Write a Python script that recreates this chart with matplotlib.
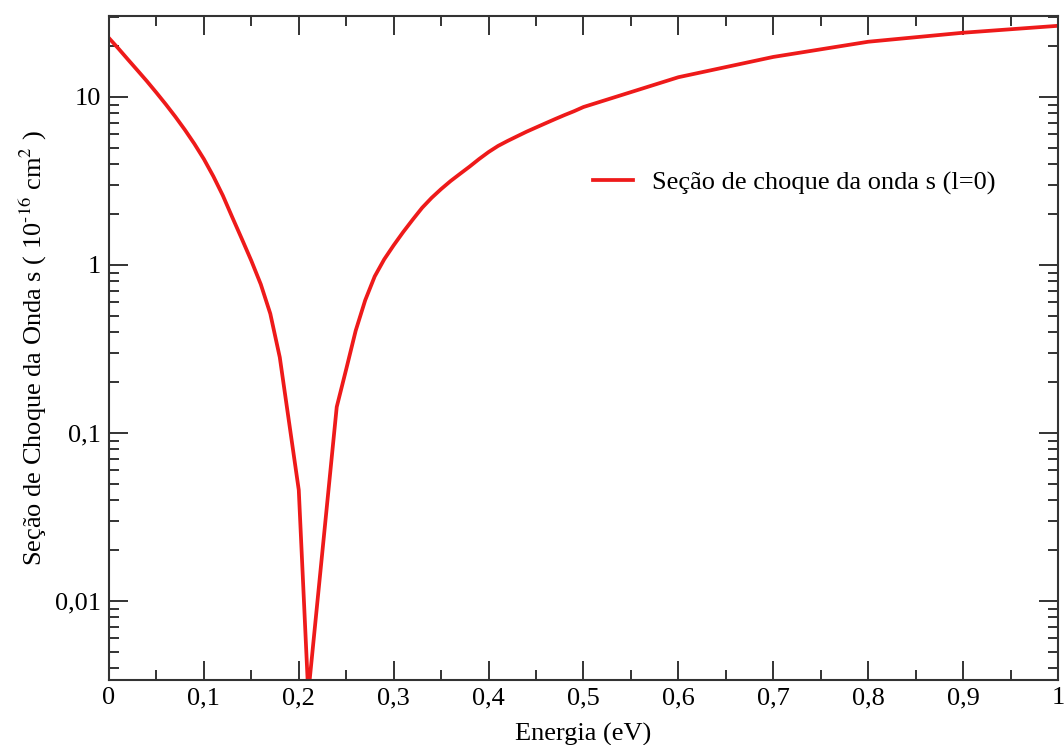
import matplotlib
matplotlib.use('Agg')
import matplotlib.pyplot as plt
from matplotlib.ticker import MultipleLocator, LogLocator, FuncFormatter, NullFormatter

# Energia (eV) e secao de choque (10^-16 cm^2)
energia = [0.00, 0.01, 0.02, 0.03, 0.04, 0.05, 0.06, 0.07, 0.08, 0.09,
           0.10, 0.11, 0.12, 0.13, 0.14, 0.15, 0.16, 0.17, 0.18, 0.20,
           0.21, 0.24, 0.25, 0.26, 0.27, 0.28, 0.29, 0.30, 0.31, 0.32,
           0.33, 0.34, 0.35, 0.36, 0.37, 0.38, 0.39, 0.40, 0.41, 0.42,
           0.43, 0.44, 0.45, 0.46, 0.47, 0.48, 0.49, 0.50, 0.60, 0.70,
           0.80, 0.90, 1.00]
secao = [22.4, 19.4, 16.7, 14.4, 12.4, 10.6, 9.02, 7.62, 6.37, 5.26,
         4.27, 3.37, 2.59, 1.92, 1.43, 1.06, 0.767, 0.513, 0.282, 0.0458,
         0.0028, 0.143, 0.240, 0.407, 0.617, 0.855, 1.08, 1.31, 1.57, 1.86,
         2.19, 2.51, 2.83, 3.16, 3.49, 3.85, 4.27, 4.70, 5.11, 5.47,
         5.83, 6.21, 6.58, 6.97, 7.38, 7.80, 8.22, 8.71, 13.1, 17.3,
         21.3, 24.1, 26.5]

plt.rcParams['font.family'] = ['Liberation Serif', 'DejaVu Serif']
plt.rcParams['mathtext.fontset'] = 'stix'

almost_black = '#333333'
fs = 19

fig = plt.figure(figsize=(10.64, 7.45), dpi=100)
ax = fig.add_axes([0.1024, 0.0872, 0.8920, 0.8913])

ax.plot(energia, secao, color='#ee1a1a', lw=2.7,
        label='Seção de choque da onda s (l=0)')

ax.set_yscale('log')
ax.set_xlim(0, 1)
ax.set_ylim(0.00339, 30.3)

# ticks like xmgrace: inside, on all four sides
ax.xaxis.set_major_locator(MultipleLocator(0.1))
ax.xaxis.set_minor_locator(MultipleLocator(0.05))
ax.yaxis.set_major_locator(LogLocator(base=10))
ax.yaxis.set_minor_locator(LogLocator(base=10, subs=range(2, 10)))
ax.yaxis.set_minor_formatter(NullFormatter())

def virgula(v, pos):
    s = ('%.2f' % v).rstrip('0').rstrip('.')
    return s.replace('.', ',')

ax.xaxis.set_major_formatter(FuncFormatter(virgula))
ax.yaxis.set_major_formatter(FuncFormatter(virgula))

ax.tick_params(which='both', direction='in', top=True, right=True,
               color=almost_black, labelsize=fs, width=1.4)
ax.tick_params(axis='x', which='major', length=14, pad=5)
ax.tick_params(axis='x', which='minor', length=7.5)
ax.tick_params(axis='y', which='major', length=14, pad=6)
ax.tick_params(axis='y', which='minor', length=7)

for spine in ax.spines.values():
    spine.set_linewidth(1.5)
    spine.set_color(almost_black)

ax.set_xlabel('Energia (eV)', fontsize=fs, labelpad=10)
ax.set_ylabel(r'Seção de Choque da Onda s ( 10$^{\text{-}16}$ cm$^{2}$ )',
              fontsize=fs, labelpad=4)

ax.legend(loc='center left', bbox_to_anchor=(0.510, 0.749), frameon=False,
          fontsize=fs, handlelength=1.5, handletextpad=0.72,
          borderaxespad=0, borderpad=0)

fig.savefig('out.png', dpi=100)
